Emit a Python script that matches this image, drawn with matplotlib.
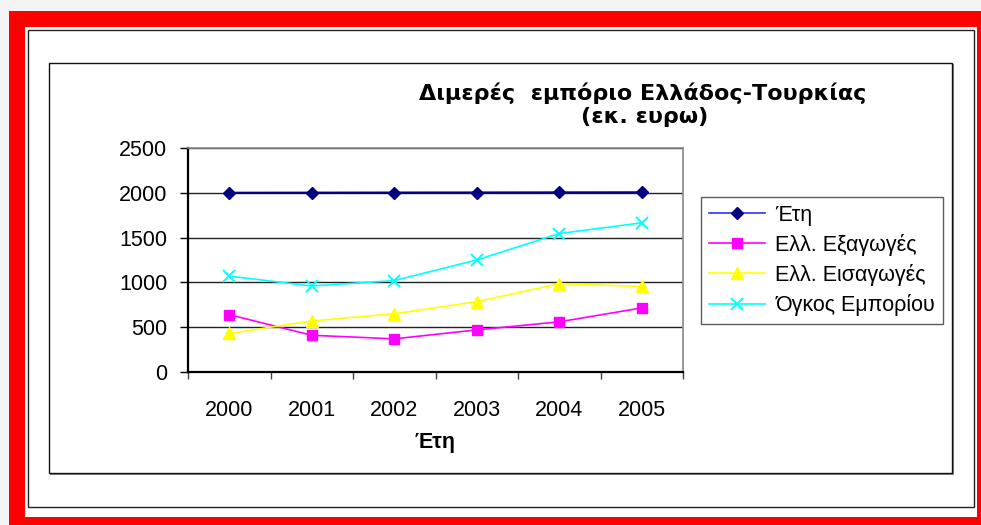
import matplotlib
matplotlib.use("Agg")
import matplotlib.pyplot as plt
from matplotlib.patches import Rectangle
from matplotlib.lines import Line2D

# Data: Greece–Turkey bilateral trade (million euro)
years = ["2000", "2001", "2002", "2003", "2004", "2005"]
year_values = [2000, 2001, 2002, 2003, 2004, 2005]
exports = [640, 410, 370, 470, 560, 715]
imports = [430, 570, 650, 785, 985, 955]
volume = [1070, 960, 1020, 1250, 1545, 1665]

series_labels = ["Έτη", "Ελλ. Εξαγωγές", "Ελλ. Εισαγωγές", "Όγκος Εμπορίου"]
y_ticks = [0, 500, 1000, 1500, 2000, 2500]

W, H = 981, 525
fig = plt.figure(figsize=(W / 100, H / 100), dpi=100)
fig.patch.set_facecolor("#f4f4f4")


def box(x0, y0, x1, y1):
    """Pixel box (top-left origin) -> figure fraction rect args."""
    return (x0 / W, 1 - y1 / H), (x1 - x0) / W, (y1 - y0) / H


def frac(x, y):
    return x / W, 1 - y / H


# red frame and white sheet
xy, w, h = box(9, 11, 985, 530)
fig.patches.append(Rectangle(xy, w, h, transform=fig.transFigure, facecolor="#ff0000", edgecolor="none", zorder=0))
xy, w, h = box(25, 27, 977, 517)
fig.patches.append(Rectangle(xy, w, h, transform=fig.transFigure, facecolor="white", edgecolor="none", zorder=0))
# outer thin frame
xy, w, h = box(27.5, 29.5, 974, 507)
fig.patches.append(Rectangle(xy, w, h, transform=fig.transFigure, facecolor="none", edgecolor="#222222", lw=1.0, zorder=1))
# chart area frame with slight shadow
xy, w, h = box(50, 64, 954, 475)
fig.patches.append(Rectangle(xy, w, h, transform=fig.transFigure, facecolor="#888888", edgecolor="none", zorder=1))
xy, w, h = box(48.5, 62.5, 952, 473)
fig.patches.append(Rectangle(xy, w, h, transform=fig.transFigure, facecolor="white", edgecolor="#111111", lw=1.0, zorder=1))

# plot area
x0, y0, x1, y1 = 188, 148, 683, 372
ax = fig.add_axes([x0 / W, 1 - y1 / H, (x1 - x0) / W, (y1 - y0) / H])
ax.set_zorder(3)
ax.set_facecolor("white")

xs = list(range(len(years)))
ax.plot(xs, year_values, color="#000080", marker="D", markersize=6, lw=1.6, label=series_labels[0])
ax.plot(xs, exports, color="#ff00ff", marker="s", markersize=7, lw=1.2, label=series_labels[1])
ax.plot(xs, imports, color="#ffff00", marker="^", markersize=8, lw=1.2, label=series_labels[2])
ax.plot(xs, volume, color="#00ffff", marker="x", markersize=8, mew=1.4, lw=1.2, label=series_labels[3])

ax.set_xlim(-0.5, len(years) - 0.5)
ax.set_ylim(0, 2500)
ax.set_yticks(y_ticks)
ax.set_yticklabels([str(v) for v in y_ticks], fontsize=15.5, family="Liberation Sans")
ax.set_xticks(xs)
ax.set_xticklabels(years, fontsize=15.5, family="Liberation Sans")
ax.set_xticks([i - 0.5 for i in range(len(years) + 1)], minor=True)
ax.tick_params(axis="x", which="major", length=0, pad=20)
ax.tick_params(axis="x", which="minor", length=5, width=1, color="#444444", direction="out")
ax.tick_params(axis="y", length=6, width=1, direction="out", pad=9)
ax.grid(axis="y", color="#222222", lw=1.0)
ax.set_axisbelow(True)

for side in ("left", "bottom"):
    ax.spines[side].set_color("black")
    ax.spines[side].set_linewidth(1.6)
for side in ("top", "right"):
    ax.spines[side].set_color("#888888")
    ax.spines[side].set_linewidth(1.2)

ax.set_xlabel("Έτη", fontsize=15.5, fontweight="bold", family="Liberation Sans", labelpad=8)

# title
fig.text(*frac(643, 100), "Διμερές  εμπόριο Ελλάδος-Τουρκίας", ha="center", va="baseline",
         fontsize=16, fontweight="bold", family="DejaVu Sans", zorder=4)
fig.text(*frac(645, 123), "(εκ. ευρω)", ha="center", va="baseline",
         fontsize=16, fontweight="bold", family="DejaVu Sans", zorder=4)

# legend
handles = [
    Line2D([], [], color="#3030ff", marker="D", markerfacecolor="#000080", markeredgecolor="#000080", markersize=6, lw=1.2),
    Line2D([], [], color="#ff00ff", marker="s", markersize=7, lw=1.2),
    Line2D([], [], color="#ffff00", marker="^", markersize=8, lw=1.2),
    Line2D([], [], color="#00ffff", marker="x", markersize=8, mew=1.4, lw=1.2),
]
lx0, ly0 = 701, 197
leg = fig.legend(handles, series_labels, loc="upper left", bbox_to_anchor=(lx0 / W, 1 - ly0 / H),
                 prop={"family": "Liberation Sans", "size": 15.5}, frameon=True, fancybox=False,
                 handlelength=2.6, handletextpad=0.5, labelspacing=0.38, borderpad=0.35, borderaxespad=0)
leg.get_frame().set_edgecolor("#333333")
leg.get_frame().set_linewidth(1.0)
leg.set_zorder(5)

fig.savefig("out.png", dpi=100, facecolor=fig.get_facecolor())
